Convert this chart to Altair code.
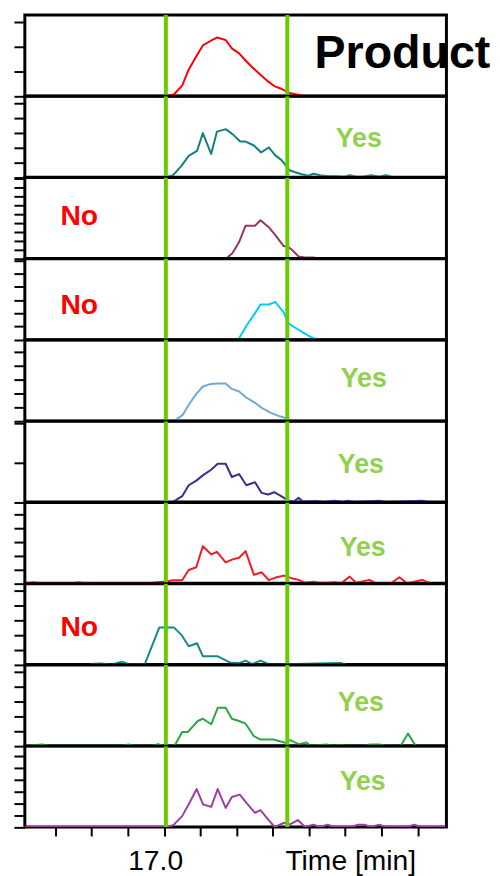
import altair as alt
import pandas as pd

# ---------------- data ----------------
x_domain = [16.616, 17.779]
window_times = [17.005, 17.34]          # green integration window

t1 = [17.012, 17.016, 17.027, 17.050, 17.068, 17.089, 17.107, 17.128, 17.146, 17.170,
      17.187, 17.207, 17.227, 17.243, 17.266, 17.284, 17.304, 17.325, 17.346, 17.380]
v1 = [0, 0.5, 1.5, 10.5, 26.5, 40, 51, 55.5, 59, 56.5,
      48, 43, 35, 29, 21.5, 15.5, 10, 7, 3, 0.5]

t2 = [17.007, 17.025, 17.048, 17.068, 17.091, 17.107, 17.130, 17.146, 17.170,
      17.189, 17.210, 17.225, 17.248, 17.268, 17.289, 17.307, 17.325, 17.346, 17.362,
      17.380, 17.398, 17.412, 17.430, 17.453, 17.475, 17.498, 17.512, 17.530, 17.548,
      17.571, 17.594, 17.612, 17.626]
v2 = [0, 2, 11.5, 21.5, 26.5, 44.5, 23.5, 46, 48.5,
      43.5, 36, 36, 32, 25, 30, 22, 17, 7, 5,
      3, 1.5, 3.5, 2, 1, 1, 0.5, 2, 0.5, 0.5,
      2, 0.5, 2, 0.5]

t3 = [17.175, 17.189, 17.207, 17.225, 17.251, 17.266, 17.289, 17.307, 17.330, 17.343,
      17.355, 17.371, 17.389, 17.416]
v3 = [1, 5.5, 16.5, 33, 33, 38.5, 31.5, 23.5, 12.5, 11.5,
      8, 2, 1, 1]

t4 = [17.207, 17.229, 17.248, 17.266, 17.289, 17.307, 17.330, 17.343, 17.362, 17.384,
      17.403, 17.416]
v4 = [1.5, 15, 25, 35.5, 35.5, 38, 27.5, 16.5, 12, 7,
      3, 1]

t5 = [17.034, 17.052, 17.070, 17.089, 17.107, 17.130, 17.148, 17.170, 17.187, 17.207,
      17.225, 17.248, 17.270, 17.293, 17.316, 17.343]
v5 = [1.3, 6.3, 17.3, 27.3, 34.7, 37.3, 37.7, 37.7, 32.3, 29.7,
      24, 19, 13, 8.3, 5, 2.3]

t6 = [17.012, 17.025, 17.050, 17.068, 17.089, 17.107, 17.130, 17.148, 17.170, 17.187,
      17.207, 17.227, 17.251, 17.269, 17.287, 17.304, 17.323, 17.342, 17.357, 17.371,
      17.384, 17.420, 17.439, 17.472, 17.494, 17.507, 17.529, 17.594, 17.617, 17.712,
      17.731]
v6 = [0, 0.3, 6, 17, 21.7, 27, 32.7, 38.7, 38.7, 25.3,
      28.3, 17, 20, 9.3, 7.7, 10, 6, 1.7, 0.3, 4.3,
      0.3, 1, 0, 1.5, 0, 1.5, 0, 1.5, 0, 1.5,
      0]

t7 = [16.617, 16.641, 16.660, 16.748, 16.764, 16.781, 16.961, 16.980, 16.997, 17.025,
      17.050, 17.068, 17.089, 17.107, 17.130, 17.146, 17.170, 17.189, 17.207, 17.225,
      17.248, 17.269, 17.289, 17.311, 17.330, 17.352, 17.371, 17.389, 17.412, 17.434,
      17.471, 17.489, 17.512, 17.530, 17.567, 17.585, 17.626, 17.649, 17.671, 17.712,
      17.735]
v7 = [0, 1, 0, 0, 1, 0, 0, 1, 1.5, 3.2,
      3.2, 13.5, 16.2, 37.5, 29.2, 31.8, 21.2, 24.2, 25.8, 32.5,
      8.5, 11.2, 3.2, 6.2, 7.8, 5.2, 3.5, 0.5, 1.5, 0,
      1, 0, 6.8, 0.5, 3.5, 0, 0, 6.2, 0, 3.5,
      0]

t8 = [16.797, 16.824, 16.856, 16.884, 16.906, 16.947, 16.987, 17.027, 17.048,
      17.068, 17.091, 17.107, 17.147, 17.184, 17.207, 17.225, 17.243, 17.266, 17.292,
      17.489, 17.502]
v8 = [0.5, 1, 0, 3, 0, 0.5, 37.5, 37.5, 30,
      18.5, 21.5, 8.5, 8.5, 1.8, 1.5, 4, 0.5, 4, 0,
      1.5, 0]

t9 = [16.617, 16.665, 16.679, 16.887, 16.902, 16.917, 16.969, 16.984, 16.997, 17.029,
      17.050, 17.066, 17.093, 17.107, 17.130, 17.148, 17.170, 17.187, 17.207, 17.225,
      17.248, 17.266, 17.302, 17.334, 17.348, 17.371, 17.393, 17.403, 17.448, 17.466,
      17.488, 17.507, 17.557, 17.567, 17.594, 17.611, 17.653, 17.673, 17.694, 17.775]
v9 = [0, 1.3, 0, 0, 1.3, 0, 0, 1.7, 0, 0,
      14, 14, 25, 27.3, 21.7, 38.3, 38.3, 27.3, 25, 22.3,
      9.7, 6.3, 6.3, 3, 5.7, 1.7, 3.3, 0, 1.3, 0,
      0.8, 0, 0, 1.3, 1.3, 0, 0, 12.3, 0, 0]

t10 = [16.617, 17.007, 17.025, 17.050, 17.070, 17.090, 17.108, 17.130, 17.148, 17.170,
       17.187, 17.209, 17.229, 17.251, 17.266, 17.287, 17.305, 17.332, 17.348, 17.369,
       17.389, 17.412, 17.430, 17.451, 17.469, 17.516, 17.535, 17.553, 17.570, 17.594,
       17.611, 17.671, 17.690, 17.708, 17.775]
v10 = [0, 0, 1.7, 11, 24.3, 38.3, 22.7, 20.3, 38.3, 19.3,
       30.3, 32.7, 23.7, 14.3, 17, 7.7, 0, 4.3, 2.7, 7,
       0, 2.3, 0, 2.3, 0, 0, 2.3, 2.3, 0, 2.3,
       0, 0, 2.3, 0, 0]

series_t = [t1, t2, t3, t4, t5, t6, t7, t8, t9, t10]
series_v = [v1, v2, v3, v4, v5, v6, v7, v8, v9, v10]

panel_colors = ["#ff0000", "#137f7f", "#993366", "#00ccff", "#6eaad4",
                "#372f8f", "#ee1c25", "#138a8a", "#2ca647", "#9e3fa6"]

labels = ["", "Yes", "No", "No", "Yes", "Yes", "Yes", "No", "Yes", "Yes"]
label_t = [None, 17.537, 16.766, 16.766, 17.551, 17.543, 17.548, 16.766, 17.543, 17.548]
label_v = [None, 38.3, 43.0, 34.6, 42.3, 36.9, 35.5, 38.2, 42.85, 45.5]

title_text = "Product"
title_t = 17.415
title_v = 28.0

y_tick_steps = [25, 15, 9, 13.3, 14, 40, 14, 15, 15, 12]
x_tick_values = [16.7, 16.8, 16.9, 17.0, 17.1, 17.2, 17.3, 17.4, 17.5, 17.6, 17.7]

# ---------------- chart ----------------
PANEL_W = 425.6
PANEL_H = 81.65
Y_MAX = 81.65

x_scale = alt.Scale(domain=x_domain, nice=False, zero=False)

bottom_axis = alt.Axis(
    values=x_tick_values,
    labelExpr="abs(datum.value - 17) < 0.001 ? '17.0' : (abs(datum.value - 17.5) < 0.001 ? 'Time [min]' : '')",
    tickSize=9, tickWidth=2, tickColor="black",
    domain=False, grid=False, title=None,
    labelFontSize=28.5, labelFont="Liberation Sans", labelColor="black",
    labelPadding=11, labelOverlap=False, labelFlush=False,
    labelOffset={"condition": {"test": "datum.value < 17.2", "value": -9}, "value": 5},
)

panels = []
n = len(series_t)
for i in range(n):
    step = y_tick_steps[i]
    ticks = [round(k * step, 3) for k in range(int(Y_MAX // step) + 1)]
    y_axis = alt.Axis(values=ticks, labels=False, ticks=True, tickSize=11, tickWidth=2,
                      tickColor="black", domain=False, grid=False, title=None)
    x_axis = bottom_axis if i == n - 1 else None
    x_enc = alt.X("t:Q", scale=x_scale, axis=x_axis)
    y_enc = alt.Y("v:Q", scale=alt.Scale(domain=[0, Y_MAX], nice=False, zero=True), axis=y_axis)

    df = pd.DataFrame({"t": series_t[i], "v": series_v[i]})
    line = alt.Chart(df).mark_line(color=panel_colors[i], strokeWidth=2, clip=True,
                                   strokeJoin="round").encode(x=x_enc, y=y_enc)

    rules = alt.Chart(pd.DataFrame({"t": window_times})).mark_rule(
        color="#66cc00", strokeWidth=4, clip=True).encode(x=x_enc)

    layers = [line, rules]
    if labels[i]:
        col = "#92d050" if labels[i] == "Yes" else "#ff0000"
        size = 27 if labels[i] == "Yes" else 28.5
        ldf = pd.DataFrame({"t": [label_t[i]], "v": [label_v[i]], "label": [labels[i]]})
        layers.append(alt.Chart(ldf).mark_text(
            font="Liberation Sans", fontWeight="bold", fontSize=size, color=col,
            align="center", baseline="middle").encode(x=x_enc, y=y_enc, text="label:N"))
    if i == 0:
        tdf = pd.DataFrame({"t": [title_t], "v": [title_v], "label": [title_text]})
        layers.append(alt.Chart(tdf).mark_text(
            font="Liberation Sans", fontWeight="bold", fontSize=47, color="black",
            align="left", baseline="alphabetic").encode(x=x_enc, y=y_enc, text="label:N"))

    panels.append(alt.layer(*layers).properties(width=PANEL_W, height=PANEL_H))

chart = (
    alt.vconcat(*panels, spacing=0, bounds="flush")
    .properties(padding={"left": 3, "top": 1, "right": 0, "bottom": 0})
    .configure_view(stroke="black", strokeWidth=3)
    .configure_concat(spacing=0)
)

chart.save("out.html", embed_options={"renderer": "svg", "actions": False})
